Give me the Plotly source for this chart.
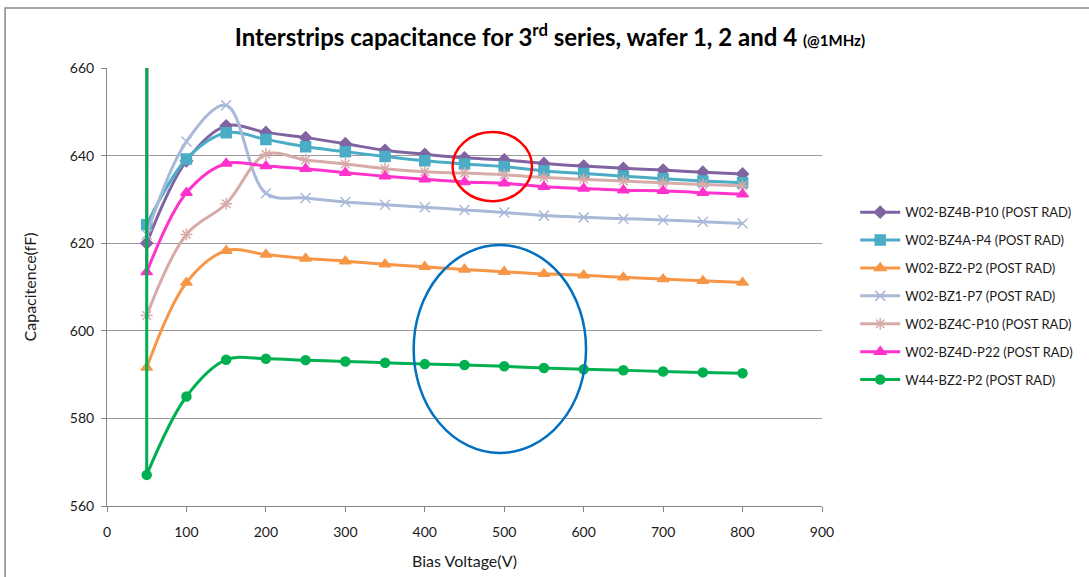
import plotly.graph_objects as go

# Bias voltage steps (V)
bias = [50, 100, 150, 200, 250, 300, 350, 400, 450, 500, 550, 600, 650, 700, 750, 800]

# Interstrip capacitance (fF) per sensor, post irradiation
bz4b_p10 = [620.0, 638.8, 646.8, 645.3, 644.1, 642.7, 641.2, 640.3, 639.5, 639.0, 638.2, 637.6, 637.1, 636.7, 636.2, 635.8]
bz4a_p4 = [624.2, 639.2, 645.2, 643.7, 642.0, 640.9, 639.8, 638.8, 638.1, 637.5, 636.5, 635.9, 635.3, 634.7, 634.2, 633.8]
bz2_p2 = [591.6, 611.0, 618.3, 617.4, 616.5, 615.9, 615.2, 614.6, 614.0, 613.5, 613.0, 612.7, 612.2, 611.8, 611.4, 611.0]
bz1_p7 = [622.0, 643.2, 651.5, 631.4, 630.3, 629.4, 628.8, 628.2, 627.6, 627.0, 626.3, 625.9, 625.6, 625.3, 624.9, 624.5]
bz4c_p10 = [603.5, 622.0, 629.0, 640.3, 639.0, 638.1, 637.0, 636.3, 636.0, 635.6, 635.0, 634.6, 634.2, 633.8, 633.4, 633.1]
bz4d_p22 = [613.4, 631.5, 638.2, 637.6, 637.0, 636.1, 635.3, 634.6, 634.0, 633.7, 632.9, 632.5, 632.1, 632.0, 631.5, 631.2]
w44_bz2_p2 = [567.1, 585.0, 593.4, 593.6, 593.3, 593.0, 592.7, 592.4, 592.2, 591.9, 591.5, 591.2, 591.0, 590.7, 590.5, 590.3]

# Off-scale first readings (bias V, fF) for two sensors
bz4d_p22_first = (52, 900.0)
w44_bz2_p2_first = (50, 900.0)

series = [
    ("W02-BZ4B-P10 (POST RAD)", bz4b_p10, "#8064A2", "diamond", 9, None),
    ("W02-BZ4A-P4 (POST RAD)", bz4a_p4, "#4BACC6", "square", 10, None),
    ("W02-BZ2-P2 (POST RAD)", bz2_p2, "#F79646", "triangle-up", 10, None),
    ("W02-BZ1-P7 (POST RAD)", bz1_p7, "#A9B9D8", "x-thin-open", 10, None),
    ("W02-BZ4C-P10 (POST RAD)", bz4c_p10, "#D7ABA8", "asterisk-open", 10, None),
    ("W02-BZ4D-P22 (POST RAD)", bz4d_p22, "#FF33CC", "triangle-up", 10, bz4d_p22_first),
    ("W44-BZ2-P2 (POST RAD)", w44_bz2_p2, "#00B050", "circle", 9, w44_bz2_p2_first),
]

FONT = "Lato, 'Open Sans', sans-serif"
TEXT = "#1a1a1a"

fig = go.Figure()
for i, (name, ys, color, symbol, size, first) in enumerate(series):
    group = f"g{i}"
    if first is not None:
        # jump from the off-scale reading down to the first on-scale value
        fig.add_trace(go.Scatter(
            x=[first[0], bias[0]], y=[first[1], ys[0]], mode="lines",
            line=dict(color=color, width=3), legendgroup=group,
            showlegend=False, hoverinfo="skip",
        ))
    fig.add_trace(go.Scatter(
        x=bias, y=ys, name=name, mode="lines+markers",
        line=dict(color=color, width=3, shape="spline", smoothing=1.0),
        marker=dict(symbol=symbol, size=size, color=color,
                    line=dict(color=color, width=1.5)),
        legendgroup=group,
    ))

fig.update_layout(
    width=1089, height=577,
    paper_bgcolor="white", plot_bgcolor="white",
    margin=dict(l=107, r=266, t=68, b=71),
    font=dict(family=FONT, size=13, color=TEXT),
    title=dict(
        text="<b>Interstrips capacitance for 3<sup>rd</sup> series, wafer 1, 2 and 4 "
             "<span style='font-size:15px'>(@1MHz)</span></b>",
        x=0.505, xanchor="center", y=0.935, yanchor="middle",
        font=dict(family=FONT, size=24, color="#000000"),
    ),
    xaxis=dict(
        range=[0, 900], dtick=100, tick0=0, automargin=False,
        showgrid=False, zeroline=False,
        showline=True, linecolor="#868686", linewidth=1,
        ticks="outside", ticklen=5, tickcolor="#868686",
        ticklabelstandoff=8,
        tickfont=dict(size=14, color=TEXT),
        title=dict(text="Bias Voltage(V)", font=dict(size=16, color=TEXT), standoff=17),
    ),
    yaxis=dict(
        range=[560, 660], dtick=20, tick0=560, automargin=False,
        showgrid=True, gridcolor="#9A9A9A", gridwidth=1,
        zeroline=False,
        showline=True, linecolor="#868686", linewidth=1,
        ticks="outside", ticklen=5, tickcolor="#868686",
        ticklabelstandoff=4,
        tickfont=dict(size=14, color=TEXT),
        title=dict(text="Capacitence(fF)", font=dict(size=16, color=TEXT), standoff=29),
    ),
    legend=dict(
        x=1.045, y=0.705, xanchor="left", yanchor="top",
        font=dict(size=13, color=TEXT),
        tracegroupgap=8, itemwidth=40, bgcolor="rgba(0,0,0,0)",
    ),
    shapes=[
        # outer chart frame
        dict(type="rect", xref="paper", yref="paper",
             x0=-0.1425, x1=2.0, y0=-1.0, y1=1.137,
             line=dict(color="#888888", width=1.5), layer="below"),
        # highlighted regions
        dict(type="circle", xref="x", yref="y",
             x0=435, x1=535, y0=629.6, y1=645.4,
             line=dict(color="#FF0000", width=2.5)),
        dict(type="circle", xref="x", yref="y",
             x0=386, x1=603, y0=572.1, y1=619.6,
             line=dict(color="#0070C0", width=2.5)),
    ],
)

fig.write_html("out.html")
